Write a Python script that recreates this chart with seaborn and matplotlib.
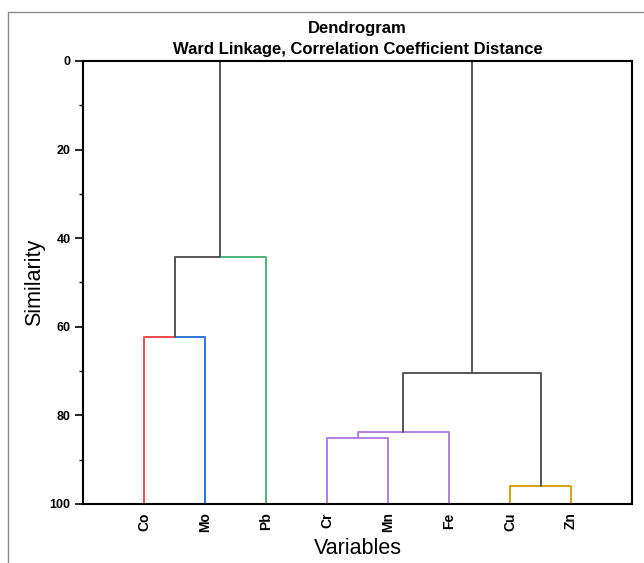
#!/usr/bin/env python3
"""Dendrogram (Ward linkage, correlation coefficient distance) of 8 elements."""

import matplotlib.pyplot as plt
from matplotlib.lines import Line2D
from matplotlib.ticker import MultipleLocator
import pandas as pd
import seaborn as sns

# leaves in plotted order
LEAVES = ["Co", "Mo", "Pb", "Cr", "Mn", "Fe", "Cu", "Zn"]

# merges: left child, right child, new node name, similarity level
MERGE_LEFT = ["Co", "A", "Cr", "C", "Cu", "D", "B"]
MERGE_RIGHT = ["Mo", "Pb", "Mn", "Fe", "Zn", "E", "F"]
MERGE_NAME = ["A", "B", "C", "D", "E", "F", "G"]
MERGE_LEVEL = [62.2, 44.2, 85.1, 83.7, 95.9, 70.4, 0.0]

# colour of the link that leaves each node towards its parent
COLORS = {
    "Co": "#F0494E", "Mo": "#2F74D9", "Pb": "#4DB57C",
    "Cr": "#B47FDE", "Mn": "#B47FDE", "Fe": "#B47FDE", "C": "#B47FDE",
    "Cu": "#D4A20A", "Zn": "#D4A20A",
    "A": "#555555", "B": "#555555", "D": "#555555", "E": "#555555",
    "F": "#555555", "G": "#555555",
}


def build_segments():
    xpos = {name: i + 1 for i, name in enumerate(LEAVES)}
    ypos = {name: 100.0 for name in LEAVES}
    rows = []
    seg = 0
    for left, right, name, lvl in zip(MERGE_LEFT, MERGE_RIGHT, MERGE_NAME, MERGE_LEVEL):
        xl, xr = xpos[left], xpos[right]
        xm = (xl + xr) / 2
        for child, xc in [(left, xl), (right, xr)]:
            for x, y in [(xc, ypos[child]), (xc, lvl), (xm, lvl)]:
                rows.append({"x": x, "y": y, "seg": seg, "color": COLORS[child]})
            seg += 1
        xpos[name] = xm
        ypos[name] = lvl
    return pd.DataFrame(rows)


def main() -> None:
    sns.set_theme(style="white")
    plt.rcParams["font.family"] = ["Liberation Sans", "DejaVu Sans"]
    plt.rcParams["text.color"] = "black"
    plt.rcParams["axes.labelcolor"] = "black"
    plt.rcParams["xtick.color"] = "black"
    plt.rcParams["ytick.color"] = "black"

    df = build_segments()
    palette = {s: c for s, c in zip(df["seg"], df["color"])}

    fig = plt.figure(figsize=(6.44, 5.63), dpi=100)
    ax = fig.add_axes([0.1289, 0.1048, 0.8525, 0.7869])

    sns.lineplot(
        data=df, x="x", y="y", units="seg", hue="seg", palette=palette,
        estimator=None, sort=False, legend=False, linewidth=1.4, ax=ax,
    )

    ax.set_xlim(0, 9)
    ax.set_ylim(100, 0)
    ax.set_xticks(range(1, len(LEAVES) + 1))
    ax.set_xticklabels(LEAVES, rotation=90, fontweight="bold", fontsize=10)
    ax.yaxis.set_major_locator(MultipleLocator(20))
    ax.yaxis.set_minor_locator(MultipleLocator(10))
    for lab in ax.get_yticklabels():
        lab.set_fontweight("bold")
        lab.set_fontsize(9)
    ax.tick_params(axis="y", which="major", direction="out", length=6, width=1.2,
                   left=True, pad=3)
    ax.tick_params(axis="y", which="minor", direction="out", length=3, width=1.0,
                   left=True)
    ax.tick_params(axis="x", length=0, pad=6)

    for sp in ax.spines.values():
        sp.set_color("black")
        sp.set_linewidth(1.5)

    ax.set_xlabel("Variables", fontsize=15.5, labelpad=4)
    ax.set_ylabel("Similarity", fontsize=15.5, labelpad=3)
    ax.set_title("Dendrogram\nWard Linkage, Correlation Coefficient Distance",
                 fontweight="bold", fontsize=12, pad=5, linespacing=1.5)

    # outer grey frame (top and left edges visible)
    fig.add_artist(Line2D([8 / 644, 8 / 644], [0, 1 - 12 / 563],
                          transform=fig.transFigure, color="#8a8a8a", linewidth=1))
    fig.add_artist(Line2D([8 / 644, 1], [1 - 12 / 563, 1 - 12 / 563],
                          transform=fig.transFigure, color="#8a8a8a", linewidth=1))

    fig.savefig("out.png", dpi=100)
    plt.close(fig)


if __name__ == "__main__":
    main()
